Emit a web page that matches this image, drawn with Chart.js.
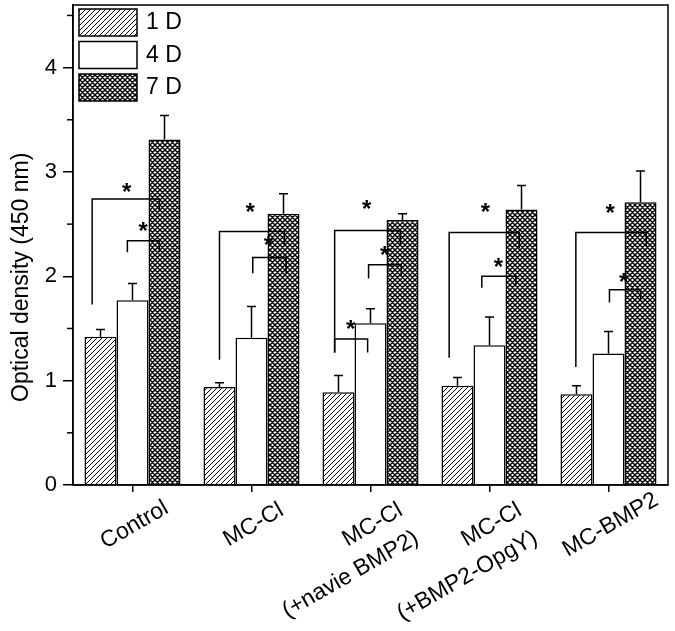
<!DOCTYPE html>
<html>
<head>
<meta charset="utf-8">
<script src="https://cdn.jsdelivr.net/npm/chart.js@4/dist/chart.umd.min.js"></script>
<style>
  html, body { margin: 0; padding: 0; background: #fff; }
  #wrap { width: 675px; height: 631px; }
</style>
</head>
<body>
<div id="wrap"><canvas id="chart"></canvas></div>
<script>
// Groups on the x axis (multi-line labels as arrays)
const GROUPS = [
	[ 'Control' ],
	[ 'MC-Cl' ],
	[ 'MC-Cl', '(+navie BMP2)' ],
	[ 'MC-Cl', '(+BMP2-OpgY)' ],
	[ 'MC-BMP2' ],
];
const SERIES = [ '1 D', '4 D', '7 D' ];
const Y_TITLE = 'Optical density (450 nm)';

// Optical density and upper error (SD)
const D1 = [ 1.42, 0.94, 0.89, 0.95, 0.87 ];
const D1_ERR = [ 0.07, 0.04, 0.16, 0.08, 0.08 ];
const D4 = [ 1.77, 1.41, 1.55, 1.34, 1.26 ];
const D4_ERR = [ 0.16, 0.30, 0.14, 0.27, 0.21 ];
const D7 = [ 3.31, 2.60, 2.54, 2.64, 2.71 ];
const D7_ERR = [ 0.23, 0.19, 0.06, 0.23, 0.30 ];

const Y_TICKS = [ 0, 1, 2, 3, 4 ];
const Y_MINOR = [ 0.5, 1.5, 2.5, 3.5, 4.5 ];

// Significance brackets: group, left/right leg (in bar widths from group centre),
// bar height, left leg end, right leg end, star x (bar widths), star y
const BRACKETS = [
	[ 0, -1.26, 0.84, 2.74, 1.73, 2.62, -0.18, 2.87 ],
	[ 0, -0.16, 0.84, 2.34, 2.23, 2.23, 0.33, 2.49 ],
	[ 1, -1.0, 1.03, 2.43, 1.2, 2.3, -0.04, 2.67 ],
	[ 1, 0.04, 1.08, 2.18, 2.03, 2.03, 0.53, 2.36 ],
	[ 2, -1.12, 0.93, 2.44, 1.27, 2.29, -0.12, 2.70 ],
	[ 2, -0.06, 0.96, 2.11, 1.98, 2.0, 0.44, 2.26 ],
	[ 2, -1.12, -0.09, 1.40, 1.27, 1.27, -0.62, 1.55 ],
	[ 3, -1.26, 0.93, 2.42, 1.22, 2.27, -0.13, 2.67 ],
	[ 3, -0.24, 0.82, 2.0, 1.89, 1.92, 0.28, 2.15 ],
	[ 4, -1.02, 1.18, 2.42, 1.13, 2.29, 0.05, 2.66 ],
	[ 4, 0.03, 1.0, 1.87, 1.75, 1.76, 0.47, 2.0 ],
];

const FONT = "'Liberation Sans', Arial, sans-serif";
const VALUES = [ D1, D4, D7 ];
const ERRS = [ D1_ERR, D4_ERR, D7_ERR ];

const canvas = document.getElementById( 'chart' );
const ctx = canvas.getContext( '2d' );

function hatchPattern() {
	const c = document.createElement( 'canvas' );
	c.width = 5;
	c.height = 5;
	const g = c.getContext( '2d' );
	g.fillStyle = '#fff';
	g.fillRect( 0, 0, 5, 5 );
	g.strokeStyle = '#000';
	g.lineWidth = 1;
	g.beginPath();
	g.moveTo( -1, 6 ); g.lineTo( 6, -1 );
	g.moveTo( -1, 1 ); g.lineTo( 1, -1 );
	g.moveTo( 4, 6 ); g.lineTo( 6, 4 );
	g.stroke();
	return ctx.createPattern( c, 'repeat' );
}

function crossPattern() {
	const c = document.createElement( 'canvas' );
	c.width = 5;
	c.height = 5;
	const g = c.getContext( '2d' );
	g.fillStyle = '#fff';
	g.fillRect( 0, 0, 5, 5 );
	g.strokeStyle = '#000';
	g.lineWidth = 1.4;
	g.beginPath();
	g.moveTo( -1, 6 ); g.lineTo( 6, -1 );
	g.moveTo( -1, 1 ); g.lineTo( 1, -1 );
	g.moveTo( 4, 6 ); g.lineTo( 6, 4 );
	g.moveTo( -1, -1 ); g.lineTo( 6, 6 );
	g.moveTo( -1, 4 ); g.lineTo( 1, 6 );
	g.moveTo( 4, -1 ); g.lineTo( 6, 1 );
	g.stroke();
	return ctx.createPattern( c, 'repeat' );
}

const FILLS = [ hatchPattern(), '#ffffff', crossPattern() ];

// Error bars, brackets, stars, frame, minor ticks, axis texts, legend
const extras = {
	id: 'extras',
	afterDatasetsDraw( chart ) {
		const c = chart.ctx;
		const xs = chart.scales.x;
		const ys = chart.scales.y;
		const area = chart.chartArea;
		c.save();
		c.strokeStyle = '#000';
		c.fillStyle = '#000';
		c.lineWidth = 1.5;

		ERRS.forEach( ( errs, i ) => {
			chart.getDatasetMeta( i ).data.forEach( ( bar, j ) => {
				const top = ys.getPixelForValue( VALUES[ i ][ j ] + errs[ j ] );
				c.beginPath();
				c.moveTo( bar.x, bar.y );
				c.lineTo( bar.x, top );
				c.moveTo( bar.x - 4.5, top );
				c.lineTo( bar.x + 4.5, top );
				c.stroke();
			} );
		} );

		const bw = chart.getDatasetMeta( 0 ).data[ 0 ].width;
		c.font = 'bold 24px ' + FONT;
		c.textAlign = 'center';
		c.textBaseline = 'alphabetic';
		BRACKETS.forEach( ( b ) => {
			const cx = xs.getPixelForValue( b[ 0 ] );
			const xl = cx + b[ 1 ] * bw;
			const xr = cx + b[ 2 ] * bw;
			const yt = ys.getPixelForValue( b[ 3 ] );
			c.beginPath();
			c.moveTo( xl, ys.getPixelForValue( b[ 4 ] ) );
			c.lineTo( xl, yt );
			c.lineTo( xr, yt );
			c.lineTo( xr, ys.getPixelForValue( b[ 5 ] ) );
			c.stroke();
			c.fillText( '*', cx + b[ 6 ] * bw, ys.getPixelForValue( b[ 7 ] ) + 14 );
		} );

		c.strokeRect( area.left, area.top, area.right - area.left, area.bottom - area.top );

		Y_MINOR.forEach( ( v ) => {
			const py = ys.getPixelForValue( v );
			c.beginPath();
			c.moveTo( area.left - 6, py );
			c.lineTo( area.left, py );
			c.stroke();
		} );

		// y title, sits a little below the axis centre as in the original
		c.font = '23px ' + FONT;
		c.textBaseline = 'middle';
		c.save();
		c.translate( 22, ys.getPixelForValue( 1.99 ) );
		c.rotate( -Math.PI / 2 );
		c.textAlign = 'center';
		c.fillText( Y_TITLE, 0, 0 );
		c.restore();

		// x labels: rotated 30 deg, first line centred at the tick, others right-aligned to it
		GROUPS.forEach( ( lines, i ) => {
			const px = xs.getPixelForValue( i );
			c.save();
			c.translate( px + 2, area.bottom + 40 );
			c.rotate( -Math.PI / 6 );
			const w0 = c.measureText( lines[ 0 ] ).width;
			c.textAlign = 'center';
			c.fillText( lines[ 0 ], 0, 0 );
			c.textAlign = 'right';
			for ( let k = 1; k < lines.length; k++ ) {
				c.fillText( lines[ k ], w0 / 2, k * 32 );
			}
			c.restore();
		} );

		// legend
		c.textAlign = 'left';
		SERIES.forEach( ( name, i ) => {
			const top = 9 + i * 32.5;
			c.fillStyle = FILLS[ i ];
			c.fillRect( 79, top, 58, 27 );
			c.strokeRect( 79, top, 58, 27 );
			c.fillStyle = '#000';
			c.fillText( name, 146, top + 14 );
		} );
		c.restore();
	},
};

new Chart( canvas, {
	type: 'bar',
	data: {
		labels: GROUPS,
		datasets: SERIES.map( ( name, i ) => ( {
			label: name,
			data: VALUES[ i ],
			backgroundColor: FILLS[ i ],
			borderColor: '#000',
			borderWidth: 1.5,
			borderSkipped: 'start',
			categoryPercentage: 0.807,
			barPercentage: 1,
		} ) ),
	},
	options: {
		responsive: true,
		maintainAspectRatio: false,
		animation: false,
		events: [],
		layout: { padding: { top: 5, right: 7, left: 0, bottom: 0 } },
		plugins: {
			legend: { display: false },
			tooltip: { enabled: false },
		},
		scales: {
			x: {
				ticks: { display: false },
				grid: {
					drawOnChartArea: false,
					offset: false,
					tickLength: 7,
					color: '#000',
					lineWidth: 1.5,
				},
				border: { color: '#000', width: 1.5 },
				afterFit: ( s ) => { s.height = 146; },
			},
			y: {
				min: 0,
				max: 4.6,
				afterBuildTicks: ( s ) => { s.ticks = Y_TICKS.map( ( v ) => ( { value: v } ) ); },
				ticks: {
					padding: 6,
					color: '#000',
					font: { family: FONT, size: 22, lineHeight: 0.05 },
				},
				afterFit: ( s ) => {
					s.width = 73;
					s.paddingTop = 0;
					s.paddingBottom = 0;
				},
				grid: {
					drawOnChartArea: false,
					tickLength: 10,
					color: '#000',
					lineWidth: 1.5,
				},
				border: { color: '#000', width: 1.5 },
			},
		},
	},
	plugins: [ extras ],
} );
</script>
</body>
</html>
